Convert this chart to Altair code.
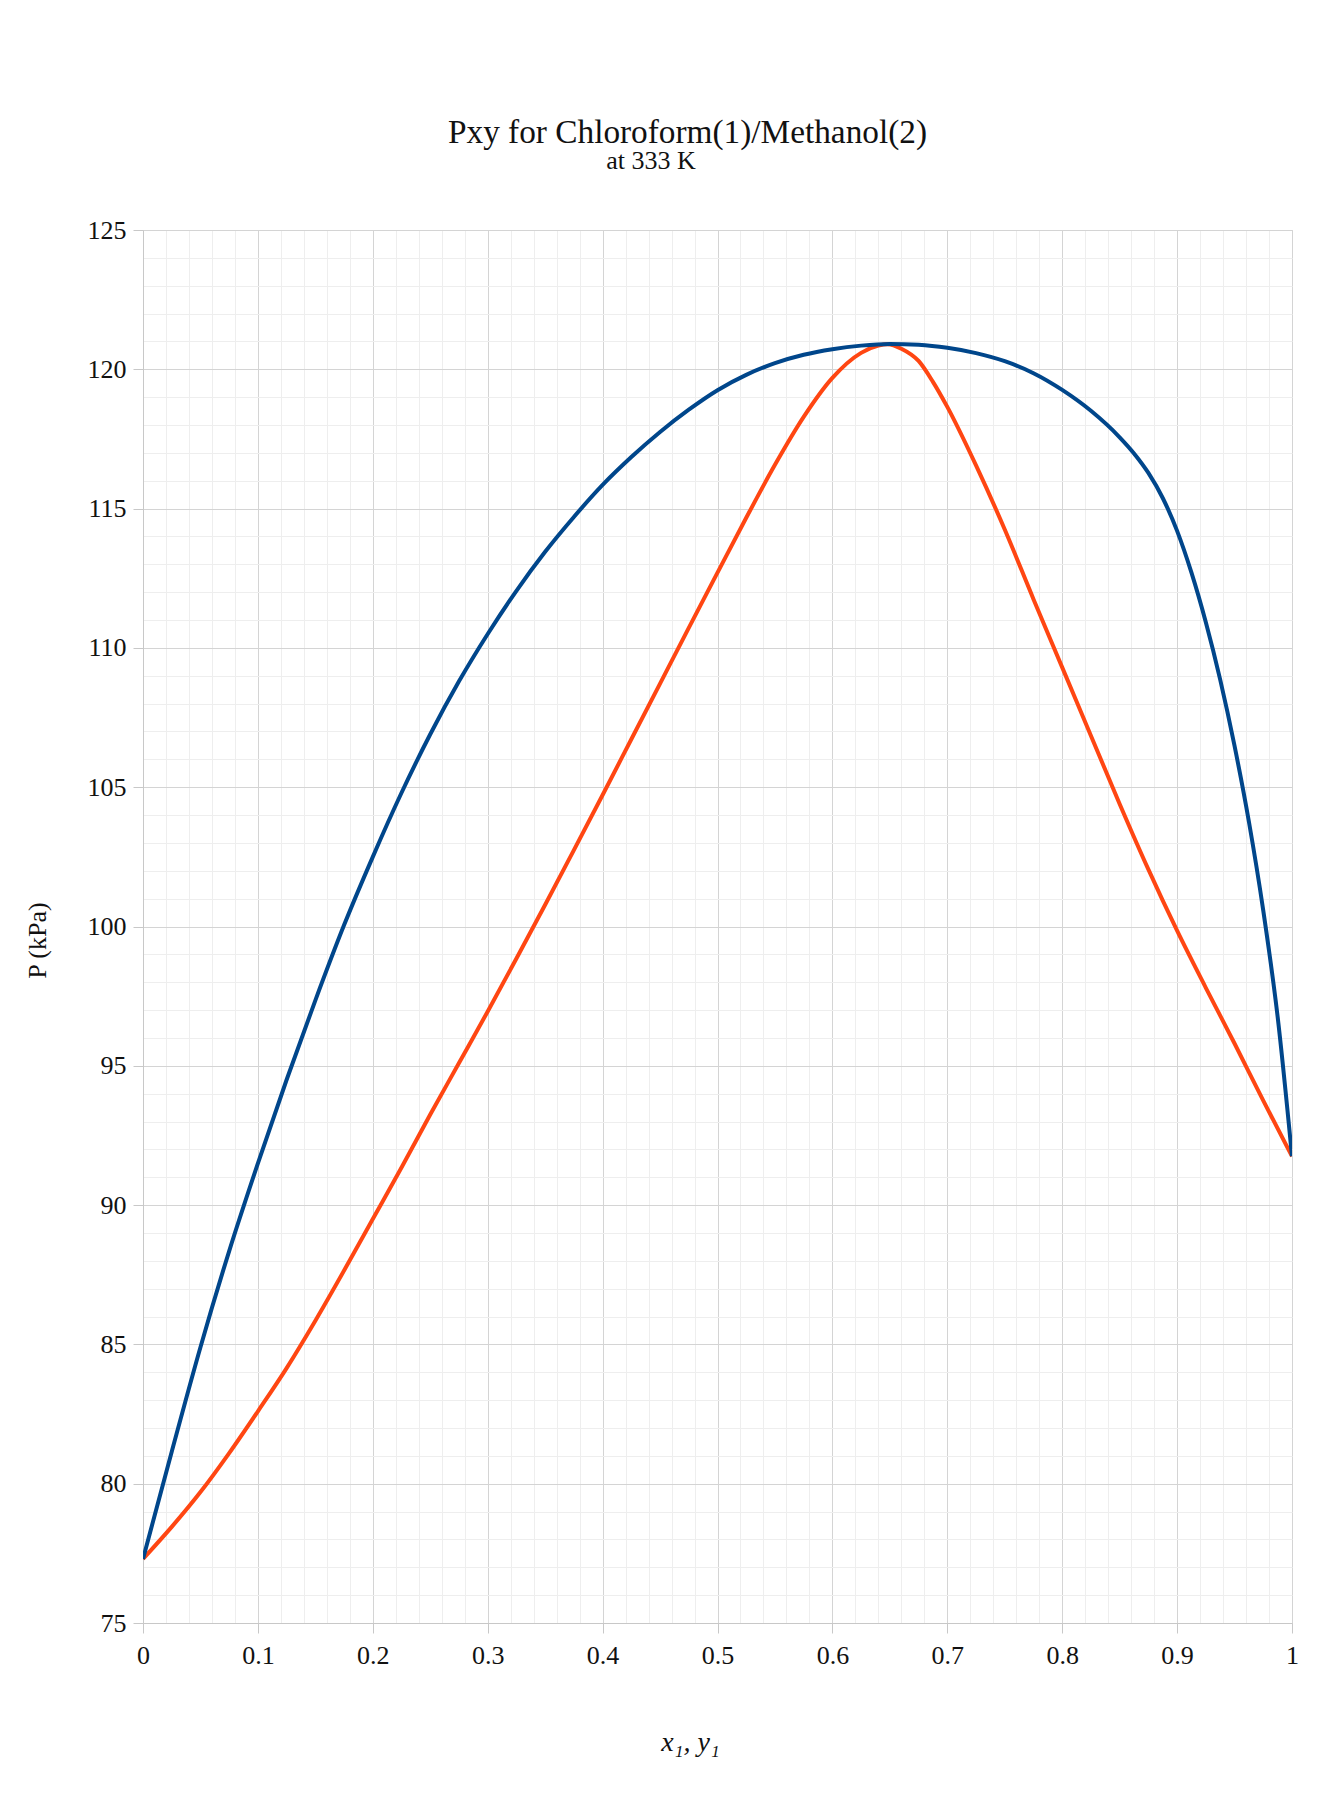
import altair as alt
import pandas as pd

# ---- data ----
# Bubble curve: P vs liquid mole fraction x1 (upper, blue)
x1_liquid = [0.000, 0.025, 0.050, 0.075, 0.100, 0.125, 0.150, 0.175, 0.200, 0.225,
             0.250, 0.275, 0.300, 0.325, 0.350, 0.375, 0.400, 0.425, 0.450, 0.475,
             0.500, 0.525, 0.550, 0.575, 0.600, 0.625, 0.650, 0.675, 0.700, 0.725,
             0.750, 0.775, 0.800, 0.825, 0.850, 0.8625, 0.875, 0.8875, 0.900, 0.9125,
             0.925, 0.9375, 0.950, 0.9625, 0.975, 0.9875, 1.000]
p_bubble = [77.3, 81.15, 84.9, 88.35, 91.5, 94.5, 97.35, 100.05, 102.5, 104.8,
            106.9, 108.8, 110.5, 112.05, 113.45, 114.7, 115.85, 116.85, 117.75, 118.55,
            119.25, 119.8, 120.22, 120.52, 120.72, 120.85, 120.91, 120.88, 120.77, 120.58,
            120.29, 119.86, 119.26, 118.51, 117.56, 116.98, 116.28, 115.38, 114.2, 112.7,
            110.92, 108.86, 106.48, 103.76, 100.57, 96.76, 91.75]

# Dew curve: P vs vapour mole fraction y1 (lower, orange)
y1_vapor = [0.000, 0.025, 0.050, 0.075, 0.100, 0.125, 0.150, 0.175, 0.200, 0.225,
            0.250, 0.275, 0.300, 0.325, 0.350, 0.375, 0.400, 0.425, 0.450, 0.475,
            0.500, 0.525, 0.550, 0.575, 0.600, 0.625, 0.640, 0.648, 0.660, 0.675,
            0.6875, 0.700, 0.725, 0.750, 0.775, 0.800, 0.825, 0.850, 0.875, 0.900,
            0.925, 0.950, 0.975, 1.000]
p_dew = [77.3, 78.45, 79.7, 81.1, 82.6, 84.15, 85.85, 87.65, 89.5, 91.35,
         93.25, 95.1, 96.95, 98.85, 100.78, 102.74, 104.72, 106.72, 108.72, 110.72,
         112.7, 114.67, 116.57, 118.29, 119.69, 120.59, 120.85, 120.9, 120.74, 120.3,
         119.55, 118.65, 116.55, 114.25, 111.75, 109.3, 106.85, 104.4, 102.05, 99.85,
         97.8, 95.8, 93.75, 91.75]

x_grid_values = [round(i * 0.02, 2) for i in range(51)]
y_grid_values = list(range(75, 126))

title_text = "Pxy for Chloroform(1)/Methanol(2)"
subtitle_text = "at 333 K"
x_title = "x₁, y₁"
y_title = "P (kPa)"

FONT = "Liberation Serif"
BLUE = "#00468b"
ORANGE = "#ff4612"
MAJOR = "#d4d4d4"
MINOR = "#eeeeee"
TEXT = "#111111"

bubble = pd.DataFrame({"comp": x1_liquid, "P": p_bubble})
dew = pd.DataFrame({"comp": y1_vapor, "P": p_dew})
titles = pd.DataFrame({"t": [title_text]})
subtitles = pd.DataFrame({"t": [subtitle_text]})

x_major_test = "round(datum.value * 100) % 10 == 0"
y_major_test = "round(datum.value) % 5 == 0"

x_axis = alt.Axis(
    values=x_grid_values,
    tickCount=200,
    grid=True,
    gridColor={"condition": {"test": x_major_test, "value": MAJOR}, "value": MINOR},
    gridWidth=1,
    tickColor={"condition": {"test": x_major_test, "value": "#c8c8c8"}, "value": "rgba(0,0,0,0)"},
    tickSize=10,
    labelExpr=f"{x_major_test} ? format(datum.value, '~g') : ''",
    labelFont=FONT,
    labelFontSize=26,
    labelColor=TEXT,
    labelPadding=9,
    labelFlush=False,
    labelOverlap=False,
    labelBound=False,
    domainColor="#c8c8c8",
    title=x_title,
    titleFont=FONT,
    titleFontSize=28,
    titleFontStyle="italic",
    titleFontWeight="normal",
    titleColor=TEXT,
    titleAlign="center",
    titleBaseline="alphabetic",
    titleX=547,
    titleY=127,
)

y_axis = alt.Axis(
    values=y_grid_values,
    tickCount=200,
    grid=True,
    gridColor={"condition": {"test": y_major_test, "value": MAJOR}, "value": MINOR},
    gridWidth=1,
    tickColor={"condition": {"test": y_major_test, "value": "#c8c8c8"}, "value": "rgba(0,0,0,0)"},
    tickSize=10,
    labelExpr=f"{y_major_test} ? format(datum.value, 'd') : ''",
    labelFont=FONT,
    labelFontSize=26,
    labelColor=TEXT,
    labelPadding=7,
    labelOverlap=False,
    labelBound=False,
    labelFlush=False,
    domainColor="#c8c8c8",
    title=y_title,
    titleFont=FONT,
    titleFontSize=26,
    titleFontWeight="normal",
    titleColor=TEXT,
    titleAlign="center",
    titleBaseline="alphabetic",
    titleAngle=-90,
    titleX=-98,
    titleY=710,
)

x_enc = alt.X("comp:Q", scale=alt.Scale(domain=[0, 1], nice=False, zero=False), axis=x_axis)
y_enc = alt.Y("P:Q", scale=alt.Scale(domain=[75, 125], nice=False, zero=False), axis=y_axis)

bubble_line = alt.Chart(bubble).mark_line(
    color=BLUE, strokeWidth=4, interpolate="monotone", clip=True
).encode(x=x_enc, y=y_enc)

dew_line = alt.Chart(dew).mark_line(
    color=ORANGE, strokeWidth=4, interpolate="monotone", clip=True
).encode(x="comp:Q", y="P:Q")

title_mark = alt.Chart(titles).mark_text(
    font=FONT, fontSize=33.3, align="center", baseline="alphabetic", color=TEXT
).encode(x=alt.value(544.5), y=alt.value(-87), text=alt.Text("t:N"))

subtitle_mark = alt.Chart(subtitles).mark_text(
    font=FONT, fontSize=26, align="center", baseline="alphabetic", color=TEXT
).encode(x=alt.value(508), y=alt.value(-61), text=alt.Text("t:N"))

chart = alt.layer(dew_line, bubble_line, title_mark, subtitle_mark).properties(
    width=1149,
    height=1393,
    autosize=alt.AutoSizeParams(type="none"),
    padding={"left": 135, "top": 222, "right": 31, "bottom": 177},
    background="white",
).configure_view(stroke="#cccccc", strokeWidth=1)

chart.save("out.html", embed_options={"renderer": "svg", "actions": False})
